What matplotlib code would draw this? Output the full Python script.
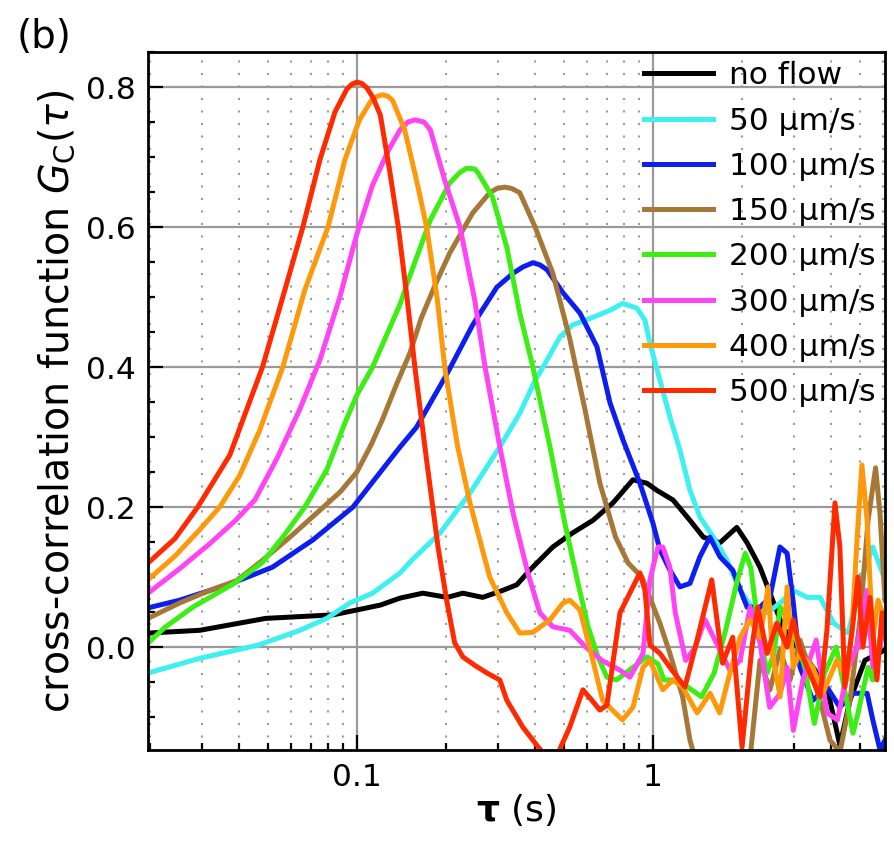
import matplotlib
matplotlib.use("Agg")
import matplotlib.pyplot as plt
import numpy as np
from matplotlib.ticker import LogLocator, MultipleLocator, NullFormatter

# --- data: tau (s) and G_C(tau) for each flow speed ---
labels = ["no flow", "50 µm/s", "100 µm/s", "150 µm/s",
          "200 µm/s", "300 µm/s", "400 µm/s", "500 µm/s"]
colors = ["#000000", "#3ff0f0", "#0c1ef0", "#a67838",
          "#3cee14", "#ff44f4", "#ff990c", "#ff2a00"]

tau_noflow = [0.0197, 0.0295, 0.0492, 0.083, 0.1, 0.12, 0.14, 0.167, 0.202, 0.228,
              0.266, 0.311, 0.347, 0.384, 0.459, 0.535, 0.627, 0.733, 0.856, 0.955,
              1.03, 1.17, 1.334, 1.48, 1.684, 1.92, 2.08, 2.30, 2.485, 2.69,
              2.90, 3.14, 3.53, 3.96, 4.28, 4.63, 5.2, 6.08]
g_noflow = [0.02, 0.024, 0.041, 0.046, 0.053, 0.06, 0.07, 0.077, 0.071, 0.077,
            0.071, 0.081, 0.089, 0.11, 0.143, 0.163, 0.181, 0.206, 0.239, 0.234,
            0.224, 0.21, 0.181, 0.157, 0.149, 0.171, 0.149, 0.114, 0.077, 0.039,
            0.01, -0.004, -0.033, -0.076, -0.14, -0.076, -0.019, -0.004]

tau_50 = [0.0197, 0.0295, 0.0466, 0.0642, 0.0791, 0.0947, 0.113, 0.14, 0.154, 0.191,
          0.241, 0.304, 0.355, 0.40, 0.439, 0.485, 0.535, 0.627, 0.716, 0.792,
          0.883, 0.94, 0.977, 1.056, 1.141, 1.234, 1.334, 1.441, 1.6, 1.78,
          1.97, 2.19, 2.43, 2.69, 2.98, 3.32, 3.67, 4.08, 4.57, 5.0, 5.53, 6.08]
g_50 = [-0.037, -0.016, 0.003, 0.024, 0.041, 0.063, 0.077, 0.106, 0.125, 0.163,
        0.22, 0.286, 0.334, 0.381, 0.41, 0.443, 0.46, 0.471, 0.481, 0.491,
        0.484, 0.467, 0.434, 0.381, 0.329, 0.281, 0.224, 0.186, 0.157, 0.124,
        0.081, 0.053, 0.049, 0.063, 0.081, 0.071, 0.071, 0.034, 0.02, 0.091, 0.143, 0.096]

tau_100 = [0.0197, 0.0252, 0.0319, 0.0393, 0.0518, 0.071, 0.097, 0.14, 0.159, 0.202,
           0.246, 0.297, 0.337, 0.364, 0.393, 0.415, 0.439, 0.497, 0.567, 0.647, 0.716, 0.792,
           0.904, 1.0, 1.056, 1.141, 1.234, 1.334, 1.441, 1.558, 1.684, 1.86,
           2.08, 2.30, 2.485, 2.686, 2.84, 2.98, 3.14, 3.47, 3.87, 4.28,
           4.74, 5.29, 5.53, 5.85, 6.08]
g_100 = [0.056, 0.067, 0.081, 0.094, 0.114, 0.153, 0.20, 0.286, 0.314, 0.391,
         0.46, 0.514, 0.534, 0.543, 0.549, 0.546, 0.539, 0.506, 0.477, 0.429, 0.349, 0.296,
         0.234, 0.177, 0.139, 0.11, 0.086, 0.091, 0.129, 0.157, 0.129, 0.11,
         0.057, 0.057, 0.071, 0.143, 0.134, 0.063, -0.029, -0.076, -0.057, -0.086,
         -0.066, -0.066, -0.104, -0.147, -0.133]

tau_150 = [0.0197, 0.0252, 0.0319, 0.0393, 0.048, 0.0594, 0.0771, 0.088, 0.1, 0.112,
           0.122, 0.136, 0.151, 0.165, 0.185, 0.206, 0.246, 0.281, 0.297, 0.316, 0.334,
           0.355, 0.40, 0.459, 0.524, 0.589, 0.662, 0.748, 0.825, 0.918, 1.056, 1.141,
           1.26, 1.334, 1.39,
           2.127, 2.30, 2.485, 2.686, 2.904, 3.139, 3.392, 3.667, 3.963, 4.284,
           4.631, 5.005, 5.33, 5.65, 5.85, 6.08]
g_150 = [0.041, 0.063, 0.081, 0.095, 0.124, 0.157, 0.20, 0.222, 0.25, 0.29,
         0.325, 0.375, 0.42, 0.47, 0.52, 0.563, 0.62, 0.649, 0.655, 0.657, 0.655,
         0.649, 0.60, 0.534, 0.44, 0.34, 0.234, 0.157, 0.12, 0.10, 0.034, -0.009,
         -0.071, -0.133, -0.16,
         -0.16, -0.019, -0.061, -0.004, -0.047, 0.01, -0.033, -0.076, -0.133, -0.15,
         -0.076, 0.039, 0.181, 0.256, 0.19, 0.067]

tau_200 = [0.0197, 0.0226, 0.0279, 0.0385, 0.048, 0.0562, 0.0667, 0.0791, 0.0911, 0.1,
           0.113, 0.14, 0.148, 0.177, 0.206, 0.223, 0.235, 0.25, 0.257, 0.287, 0.321, 0.355,
           0.393, 0.449, 0.504, 0.562, 0.604, 0.652, 0.699, 0.753, 0.856, 0.955,
           1.04, 1.09, 1.19, 1.31, 1.46, 1.61, 1.76, 1.93, 2.05, 2.14,
           2.26, 2.43, 2.56, 2.69, 2.98, 3.26, 3.51, 3.80, 4.16, 4.74,
           4.93, 5.33, 5.53, 6.0]
g_200 = [0.006, 0.029, 0.057, 0.091, 0.121, 0.157, 0.20, 0.253, 0.32, 0.36,
         0.40, 0.49, 0.52, 0.61, 0.663, 0.678, 0.684, 0.683, 0.677, 0.643, 0.571, 0.477,
         0.40, 0.286, 0.177, 0.086, 0.029, -0.014, -0.043, -0.047, -0.029, -0.014,
         -0.024, -0.047, -0.047, -0.057, -0.071, -0.037, 0.024, 0.096, 0.134, 0.114,
         0.034, -0.037, -0.01, 0.057, 0.024, -0.029, -0.109, -0.037, 0.0, -0.123,
         -0.094, -0.029, -0.047, 0.039]

tau_300 = [0.0197, 0.0252, 0.0319, 0.0387, 0.0452, 0.0538, 0.0642, 0.075, 0.0876, 0.1,
           0.113, 0.128, 0.14, 0.1487, 0.157, 0.1685, 0.177, 0.198, 0.223, 0.25, 0.271, 0.304,
           0.337, 0.378, 0.415, 0.459, 0.524, 0.593, 0.672, 0.774, 0.836, 0.926,
           0.977, 1.04, 1.08, 1.141, 1.19, 1.29, 1.39, 1.50, 1.62, 1.82, 1.97,
           2.13, 2.30, 2.48, 2.69, 2.84, 2.98, 3.21, 3.56, 3.87, 4.20, 4.57,
           4.89, 5.29, 5.53, 5.85, 6.08]
g_300 = [0.077, 0.112, 0.148, 0.18, 0.21, 0.27, 0.34, 0.41, 0.50, 0.59,
         0.66, 0.71, 0.739, 0.75, 0.753, 0.75, 0.739, 0.667, 0.60, 0.496, 0.40, 0.286,
         0.191, 0.106, 0.049, 0.029, 0.024, 0.0, -0.019, -0.033, -0.043, -0.009,
         0.096, 0.143, 0.143, 0.114, 0.049, -0.019, 0.0, 0.039, 0.01, -0.033, -0.019,
         0.057, 0.006, -0.086, -0.066, -0.029, -0.119, -0.047, 0.01, -0.094, -0.104, -0.029,
         0.0, 0.081, -0.029, 0.0, 0.04]

tau_400 = [0.0197, 0.0243, 0.0295, 0.0344, 0.0402, 0.047, 0.0562, 0.0667, 0.0799, 0.0911, 0.102,
           0.112, 0.1177, 0.122, 0.127, 0.132, 0.145, 0.159, 0.172, 0.187, 0.198, 0.219, 0.241,
           0.281, 0.321, 0.355, 0.393, 0.449, 0.497, 0.524, 0.567, 0.627, 0.676,
           0.730, 0.789, 0.856, 0.926, 0.977, 1.08, 1.17, 1.26, 1.41, 1.56,
           1.68, 1.82, 1.97, 2.13, 2.30, 2.45, 2.53, 2.69, 2.84, 2.98,
           3.14, 3.47, 3.75, 4.18, 4.52, 4.70, 4.89, 5.08, 5.29, 5.53, 5.76, 6.08]
g_400 = [0.096, 0.13, 0.168, 0.20, 0.245, 0.31, 0.40, 0.51, 0.60, 0.696, 0.753,
         0.781, 0.787, 0.789, 0.787, 0.781, 0.739, 0.667, 0.60, 0.496, 0.40, 0.286, 0.206,
         0.10, 0.049, 0.02, 0.021, 0.039, 0.063, 0.067, 0.053, -0.019, -0.076,
         -0.09, -0.104, -0.086, -0.029, -0.019, -0.061, -0.047, -0.057, -0.094, -0.066,
         -0.094, -0.037, 0.014, 0.039, 0.014, 0.086, -0.009, -0.071, 0.086, -0.029,
         -0.009, -0.029, -0.066, -0.019, -0.047, 0.024, 0.153, 0.26, 0.181, 0.01, 0.067, 0.039]

tau_500 = [0.0197, 0.0243, 0.029, 0.0372, 0.048, 0.0571, 0.0657, 0.075, 0.0843, 0.0925,
           0.0962, 0.1, 0.104, 0.108, 0.1133, 0.12, 0.129, 0.138, 0.148, 0.157, 0.172, 0.188, 0.201,
           0.214, 0.228, 0.25, 0.275, 0.304, 0.321, 0.363, 0.405, 0.432, 0.474,
           0.524, 0.580, 0.622, 0.662, 0.699, 0.774, 0.856, 0.904, 0.94, 0.977,
           1.056, 1.16, 1.283, 1.41, 1.58, 1.72, 1.86, 2.0, 2.16, 2.26,
           2.43, 2.62, 2.84, 2.98, 3.14, 3.32, 3.67, 3.87, 4.12, 4.28,
           4.45, 4.74, 4.93, 5.12, 5.41, 5.71, 5.94, 6.2]
g_500 = [0.12, 0.155, 0.20, 0.274, 0.40, 0.51, 0.60, 0.696, 0.764, 0.797,
         0.804, 0.807, 0.805, 0.799, 0.785, 0.76, 0.681, 0.60, 0.496, 0.40, 0.267, 0.143, 0.067,
         0.006, -0.014, -0.026, -0.037, -0.047, -0.076, -0.114, -0.14, -0.155, -0.155,
         -0.114, -0.061, -0.076, -0.09, -0.083, 0.049, 0.086, 0.106, 0.081, 0.003,
         -0.009, -0.033, -0.057, 0.01, 0.096, -0.023, 0.014, -0.143, 0.0, 0.057,
         -0.009, 0.034, 0.0, 0.039, -0.004, -0.029, -0.071, 0.024, 0.206, 0.143,
         -0.057, 0.034, 0.1, 0.0, 0.071, -0.047, 0.049, -0.004]

taus = [tau_noflow, tau_50, tau_100, tau_150, tau_200, tau_300, tau_400, tau_500]
gs = [g_noflow, g_50, g_100, g_150, g_200, g_300, g_400, g_500]

fig = plt.figure(figsize=(8.95, 8.49), dpi=100)
ax = fig.add_axes([148 / 895, 1 - 750 / 849, (885 - 148) / 895, (750 - 52) / 849])

for t, g, c, lab in zip(taus, gs, colors, labels):
    ax.plot(t, g, color=c, lw=3.6, label=lab, solid_joinstyle="round")

ax.set_xscale("log")
ax.set_xlim(0.0197, 6.08)
ax.set_ylim(-0.147, 0.85)

ax.set_xticks([0.1, 1], labels=["0.1", "1"])
ax.xaxis.set_minor_locator(LogLocator(base=10, subs=np.arange(2, 10)))
ax.xaxis.set_minor_formatter(NullFormatter())
ax.set_yticks([0.0, 0.2, 0.4, 0.6, 0.8], labels=["0.0", "0.2", "0.4", "0.6", "0.8"])
ax.yaxis.set_minor_locator(MultipleLocator(0.05))

ax.set_axisbelow(True)
ax.grid(which="major", color="#9a9a9a", lw=1.6)
ax.xaxis.grid(which="minor", color="#9a9a9a", lw=1.5, ls=(0, (1, 5)))

ax.tick_params(which="both", direction="in", top=False, right=False, width=1.6)
ax.tick_params(which="major", length=11, labelsize=22.5, pad=9)
ax.tick_params(which="minor", length=5)
for s in ax.spines.values():
    s.set_linewidth(2)

ax.set_xlabel(r"$\mathbf{\tau}$ (s)", fontsize=26, labelpad=0)
ax.set_ylabel(r"cross-correlation function $G_\mathrm{C}(\tau)$", fontsize=28.5, labelpad=6)

ax.legend(loc="upper right", frameon=False, fontsize=22.5, handlelength=2.2,
          handletextpad=0.5, labelspacing=0.52, borderaxespad=0.1, borderpad=0.2)

fig.text(17 / 895, 1 - 18 / 849, "(b)", fontsize=28, ha="left", va="top")

fig.savefig("out.png", dpi=100)
